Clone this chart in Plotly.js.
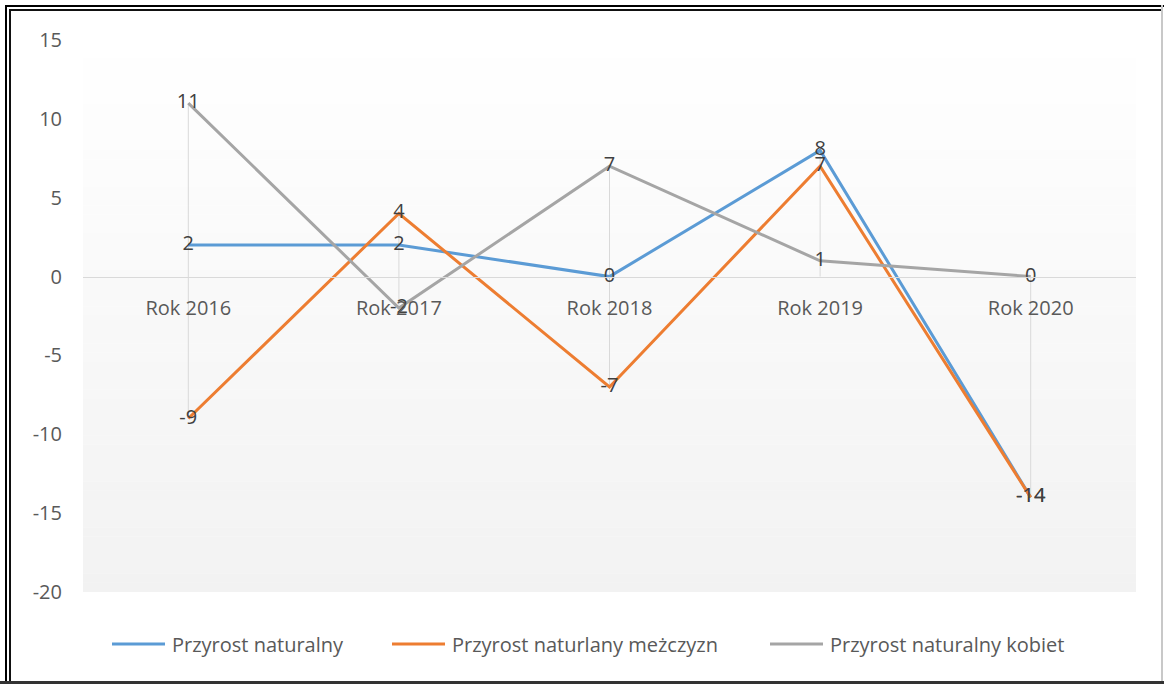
<!DOCTYPE html>
<html>
<head>
<meta charset="utf-8">
<script src="https://cdn.plot.ly/plotly-3.0.1.min.js"></script>
<style>
  html, body { margin: 0; padding: 0; background: #ffffff; }
  #wrap { position: relative; width: 1164px; height: 684px; overflow: hidden; }
  #chart { position: absolute; left: 0; top: 0; width: 1164px; height: 684px; }
  .frame { position: absolute; pointer-events: none; box-sizing: border-box; }
</style>
</head>
<body>
<div id="wrap">
  <div id="chart"></div>
  <div class="frame" style="left:5px; top:5px; width:1162px; height:676px; border-top:2px solid #000; border-left:2px solid #000;"></div>
  <div class="frame" style="left:9px; top:9px; width:1154px; height:672px; border-top:2px solid #111; border-left:2px solid #111;"></div>
  <div class="frame" style="left:1161px; top:5px; width:2px; height:679px; background:#c8c8c8;"></div>
  <div class="frame" style="left:0; top:681px; width:1164px; height:3px; background:#333;"></div>
</div>
<script>
// Years on the category axis
const categories = ['Rok 2016', 'Rok 2017', 'Rok 2018', 'Rok 2019', 'Rok 2020'];

// Series names
const seriesNames = ['Przyrost naturalny', 'Przyrost naturlany meżczyzn', 'Przyrost naturalny kobiet'];

// Series values
const przyrostOgolny = [2, 2, 0, 8, -14];
const przyrostMezczyzn = [-9, 4, -7, 7, -14];
const przyrostKobiet = [11, -2, 7, 1, 0];

// Value axis ticks
const yTicks = [-20, -15, -10, -5, 0, 5, 10, 15];

const seriesValues = [przyrostOgolny, przyrostMezczyzn, przyrostKobiet];
const colors = ['#5b9bd5', '#ed7d31', '#a5a5a5'];

const FONT = 'Open Sans, Noto Sans, sans-serif';

// Drop lines: from the category axis to the furthest point at each category
const dropX = [];
const dropY = [];
categories.forEach((c, i) => {
  const vals = seriesValues.map(s => s[i]);
  const hi = Math.max(0, ...vals);
  const lo = Math.min(0, ...vals);
  dropX.push(c, c, null);
  dropY.push(hi, lo, null);
});

const traces = [{
  x: dropX, y: dropY, mode: 'lines', type: 'scatter',
  line: { color: '#d9d9d9', width: 1 }, hoverinfo: 'skip', showlegend: false
}];

seriesValues.forEach((vals, k) => {
  traces.push({
    x: categories,
    y: vals,
    name: seriesNames[k],
    type: 'scatter',
    mode: 'lines+text',
    text: vals.map(String),
    textposition: 'middle center',
    textfont: { family: FONT, size: 20, color: '#404040' },
    line: { color: colors[k], width: 3 },
    cliponaxis: false,
    showlegend: false
  });
});

// Plot area geometry in pixels
const W = 1164, H = 684;
const M = { l: 83, r: 28, t: 40, b: 92 };
const plotW = W - M.l - M.r, plotH = H - M.t - M.b;
const px2x = p => (p - M.l) / plotW;
const px2y = p => (H - M.b - p) / plotH;

// Soft vertical gradient in the plot area
const shapes = [];
const bands = 60;
for (let i = 0; i < bands; i++) {
  const t = (i + 0.5) / bands; // 0 at top, 1 at bottom
  const v = Math.round(255 - t * 13);
  shapes.push({
    type: 'rect', xref: 'paper', yref: 'paper', layer: 'below',
    x0: 0, x1: 1, y0: 1 - (i + 1) / bands, y1: 1 - i / bands + 0.0005,
    fillcolor: `rgb(${v},${v},${v})`, line: { width: 0 }
  });
}

// Legend drawn as line samples with labels below the plot
const annotations = [];
const legendItems = [
  { x0: 112, x1: 165, tx: 170 },
  { x0: 392, x1: 445, tx: 450 },
  { x0: 770, x1: 823, tx: 828 }
];
const legendY = px2y(644);
legendItems.forEach((it, k) => {
  shapes.push({
    type: 'line', xref: 'paper', yref: 'paper',
    x0: px2x(it.x0), x1: px2x(it.x1), y0: legendY, y1: legendY,
    line: { color: colors[k], width: 3 }
  });
  annotations.push({
    xref: 'paper', yref: 'paper', x: px2x(it.tx), y: legendY,
    xanchor: 'left', yanchor: 'middle', showarrow: false,
    text: seriesNames[k],
    font: { family: FONT, size: 20, color: '#595959' }
  });
});

const layout = {
  width: W, height: H,
  margin: M,
  paper_bgcolor: 'rgba(0,0,0,0)',
  plot_bgcolor: 'rgba(0,0,0,0)',
  showlegend: false,
  font: { family: FONT, size: 20, color: '#595959' },
  xaxis: {
    type: 'category',
    range: [-0.5, categories.length - 0.5],
    anchor: 'free',
    position: 20 / 35,
    showgrid: false,
    showline: true, linecolor: '#d9d9d9', linewidth: 1,
    ticks: '', ticklabelstandoff: 13,
    tickfont: { family: FONT, size: 20, color: '#595959' },
    fixedrange: true
  },
  yaxis: {
    range: [-20, 15],
    tickvals: yTicks,
    ticktext: yTicks.map(String),
    showgrid: false, zeroline: false, showline: false,
    ticks: '', ticklabelstandoff: 20,
    tickfont: { family: FONT, size: 20, color: '#595959' },
    fixedrange: true
  },
  shapes: shapes,
  annotations: annotations
};

Plotly.newPlot('chart', traces, layout, { displayModeBar: false, staticPlot: true });
</script>
</body>
</html>
